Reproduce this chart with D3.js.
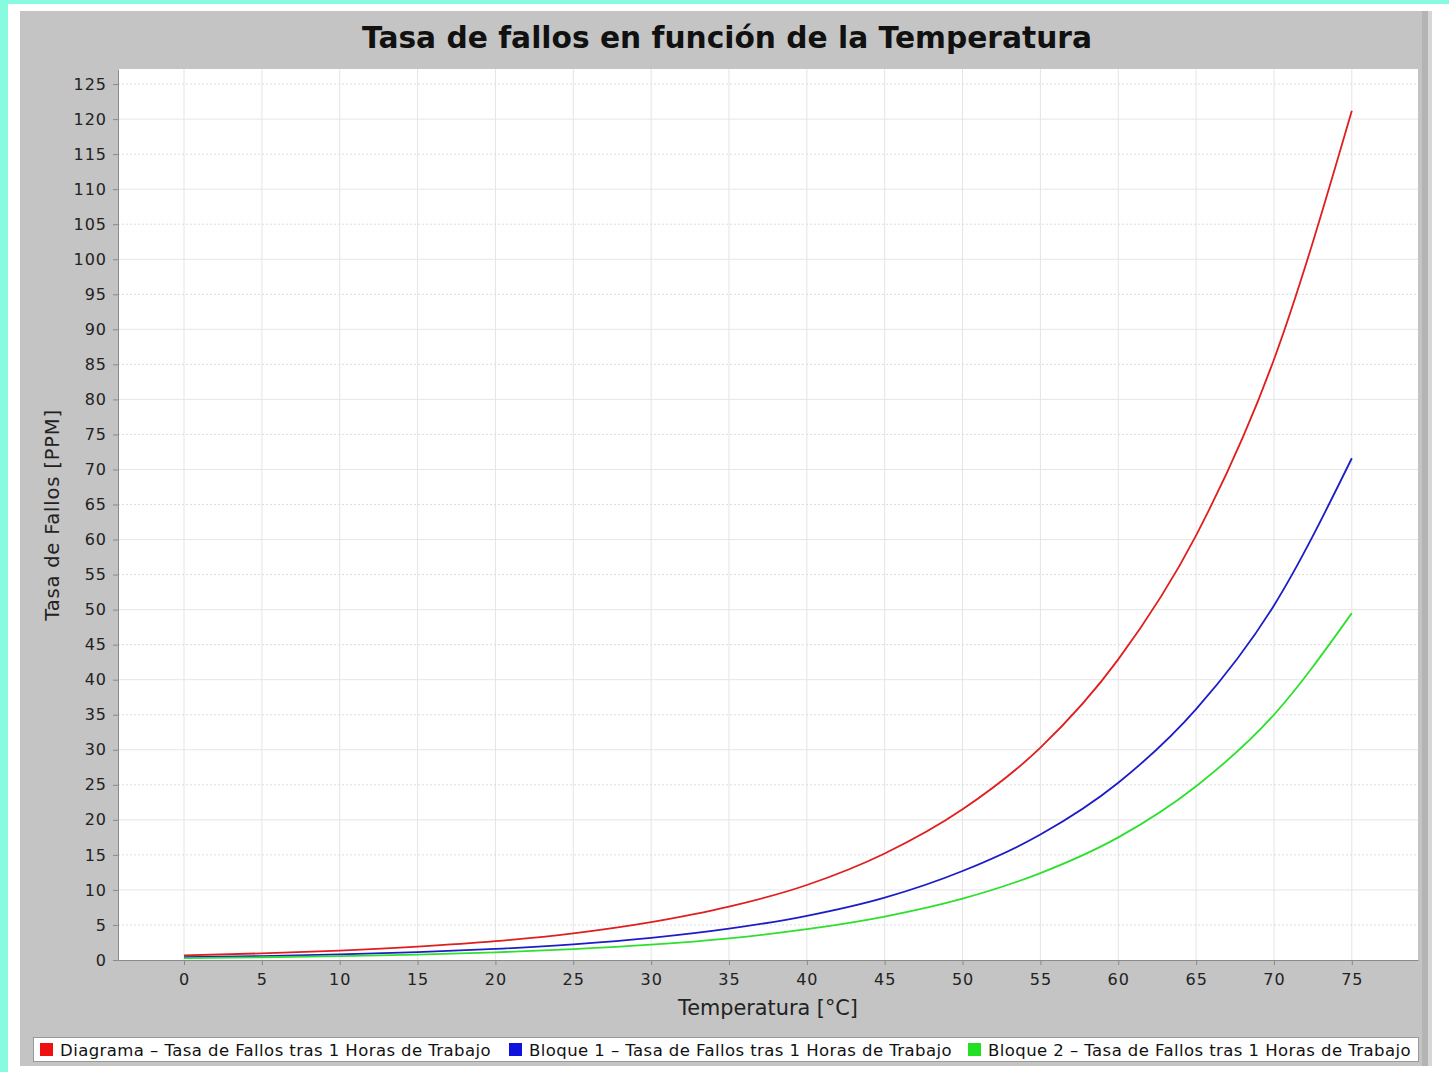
<!DOCTYPE html>
<html>
<head>
<meta charset="utf-8">
<script src="https://cdn.jsdelivr.net/npm/d3@7"></script>
<style>
  body { margin: 0; background: #86fbe0; }
  svg { display: block; }
</style>
</head>
<body>
<div id="grafico"></div>
<script>
// Datos (Tasa de fallos en PPM)
var temperaturas = [0, 5, 10, 15, 20, 25, 30, 35, 40, 45, 50, 55, 60, 65, 70, 75]
var diagrama = [0.67, 0.95, 1.34, 1.9, 2.68, 3.8, 5.4, 7.6, 10.7, 15.2, 21.5, 30.3, 42.9, 60.6, 85.7, 121.2]
var bloque1 = [0.40, 0.56, 0.79, 1.12, 1.58, 2.24, 3.16, 4.47, 6.3, 8.9, 12.7, 17.9, 25.3, 35.8, 50.6, 71.6]
var bloque2 = [0.27, 0.39, 0.55, 0.77, 1.09, 1.55, 2.19, 3.1, 4.4, 6.2, 8.75, 12.4, 17.5, 24.8, 35, 49.5]
var xTicks = d3.range(0, 80, 5)
var yTicks = d3.range(0, 130, 5)
var series = [
    {nombre: "Diagrama - Tasa de Fallos tras 1 Horas de Trabajo", valores: diagrama, color: "#e01e1e", swatch: "#ee1111"},
    {nombre: "Bloque 1 - Tasa de Fallos tras 1 Horas de Trabajo", valores: bloque1, color: "#1c1cc8", swatch: "#1111dd"},
    {nombre: "Bloque 2 - Tasa de Fallos tras 1 Horas de Trabajo", valores: bloque2, color: "#2ee02e", swatch: "#22e022"}
]

var width = 1449
var height = 1072
var plot = {left: 118, top: 69, right: 1418, bottom: 960}
var fuente = "'DejaVu Sans', sans-serif"

var svg = d3.select("#grafico").append("svg")
    .attr("width", width)
    .attr("height", height)

// marco blanco y panel gris
svg.append("rect").attr("x", 8).attr("y", 4).attr("width", width - 8).attr("height", height - 4).attr("fill", "white")
svg.append("rect").attr("x", 20).attr("y", 11).attr("width", 1402).attr("height", 1055).attr("fill", "#c4c4c4")
svg.append("rect").attr("x", 1422).attr("y", 11).attr("width", 6).attr("height", 1055).attr("fill", "#b4b4b4")
svg.append("rect").attr("x", 1428).attr("y", 11).attr("width", 4).attr("height", 1055).attr("fill", "#d6d6d6")

var x = d3.scaleLinear()
    .domain([-4.24, 79.25])
    .range([plot.left, plot.right])

var y = d3.scaleLinear()
    .domain([0, 127.15])
    .range([plot.bottom, plot.top])

// area del grafico
svg.append("rect")
    .attr("x", plot.left).attr("y", plot.top)
    .attr("width", plot.right - plot.left).attr("height", plot.bottom - plot.top)
    .attr("fill", "white")

// rejilla
svg.append("g").selectAll("line")
    .data(xTicks)
    .join("line")
    .attr("x1", d => x(d)).attr("x2", d => x(d))
    .attr("y1", plot.top).attr("y2", plot.bottom)
    .attr("stroke", "#e4e4e4")
    .attr("stroke-width", 1)

svg.append("g").selectAll("line")
    .data(yTicks.filter(d => d > 0))
    .join("line")
    .attr("x1", plot.left).attr("x2", plot.right)
    .attr("y1", d => y(d)).attr("y2", d => y(d))
    .attr("stroke", d => d % 10 == 0 ? "#e6e6e6" : "#dcdcdc")
    .attr("stroke-dasharray", d => d % 10 == 0 ? null : "2,2")
    .attr("stroke-width", 1)

// ejes
var xAxis = g => g
    .attr("transform", `translate(0,${plot.bottom})`)
    .call(d3.axisBottom(x).tickValues(xTicks).tickSize(5).tickPadding(9).tickSizeOuter(0))
    .call(g => g.select(".domain").attr("stroke", "#8a8a8a"))
    .call(g => g.selectAll(".tick line").attr("stroke", "#8a8a8a"))
    .call(g => g.selectAll("text").attr("fill", "#222").attr("font-size", 16).attr("letter-spacing", 1).attr("font-family", fuente))

var yAxis = g => g
    .attr("transform", `translate(${plot.left},0)`)
    .call(d3.axisLeft(y).tickValues(yTicks).tickSize(5).tickPadding(6).tickSizeOuter(0))
    .call(g => g.select(".domain").attr("stroke", "#8a8a8a"))
    .call(g => g.selectAll(".tick line").attr("stroke", "#8a8a8a"))
    .call(g => g.selectAll("text").attr("fill", "#222").attr("font-size", 16).attr("letter-spacing", 1).attr("font-family", fuente))

svg.append("g").call(xAxis)
svg.append("g").call(yAxis)

// curvas
var linea = vals => d3.line()
    .x((d, i) => x(temperaturas[i]))
    .y(d => y(d))
    .curve(d3.curveMonotoneX)(vals)

svg.append("g").selectAll("path")
    .data(series)
    .join("path")
    .attr("d", d => linea(d.valores))
    .attr("fill", "none")
    .attr("stroke", d => d.color)
    .attr("stroke-width", 1.8)

// titulos
svg.append("text")
    .attr("x", 727).attr("y", 48)
    .attr("text-anchor", "middle")
    .attr("font-family", fuente)
    .attr("font-weight", "bold")
    .attr("font-size", 29.7)
    .attr("fill", "#111")
    .text("Tasa de fallos en función de la Temperatura")

svg.append("text")
    .attr("x", 768).attr("y", 1015)
    .attr("text-anchor", "middle")
    .attr("font-family", fuente)
    .attr("font-size", 20.8)
    .attr("fill", "#222")
    .text("Temperatura [°C]")

svg.append("text")
    .attr("transform", "translate(59,515) rotate(-90)")
    .attr("text-anchor", "middle")
    .attr("font-family", fuente)
    .attr("font-size", 19.5)
    .attr("letter-spacing", 0.8)
    .attr("fill", "#222")
    .text("Tasa de Fallos [PPM]")

// leyenda
svg.append("rect")
    .attr("x", 33.5).attr("y", 1037.5).attr("width", 1385).attr("height", 24)
    .attr("fill", "white").attr("stroke", "#999")

var posLeyenda = [40, 509, 968]
var item = svg.append("g").selectAll("g")
    .data(series)
    .join("g")
    .attr("transform", (d, i) => `translate(${posLeyenda[i]},1043)`)

item.append("rect")
    .attr("width", 13).attr("height", 13)
    .attr("fill", d => d.swatch)

item.append("text")
    .attr("x", 20).attr("y", 13)
    .attr("font-family", fuente)
    .attr("font-size", 16.5)
    .attr("letter-spacing", 0.43)
    .attr("fill", "#111")
    .text(d => d.nombre.replace(" - ", " – "))
</script>
</body>
</html>
